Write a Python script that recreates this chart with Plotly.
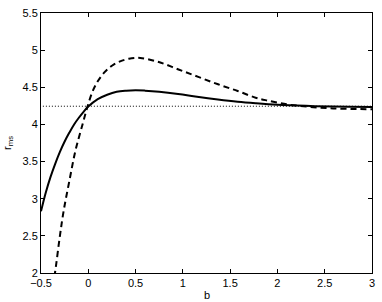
import plotly.graph_objects as go

# Solid curve
b_solid = [-0.5, -0.45, -0.4, -0.35, -0.3, -0.25, -0.2, -0.15, -0.1, -0.05, 0.0, 0.1, 0.2, 0.3, 0.4,
           0.5, 0.6, 0.75, 0.95, 1.15, 1.37, 1.58, 1.77, 2.0, 2.3, 2.6, 3.0]
r_solid = [2.83, 3.08, 3.29, 3.47, 3.63, 3.77, 3.89, 4.0, 4.09, 4.17, 4.24, 4.34, 4.40, 4.44, 4.455,
           4.46, 4.455, 4.44, 4.41, 4.372, 4.335, 4.305, 4.285, 4.265, 4.25, 4.24, 4.235]

# Dashed curve
b_dash = [-0.36, -0.35, -0.30, -0.26, -0.20, -0.137, -0.061, -0.008, 0.044, 0.10, 0.17, 0.25, 0.33,
          0.43, 0.55, 0.745, 0.954, 1.163, 1.372, 1.58, 1.77, 1.9, 2.1, 2.31, 2.52, 2.73, 3.0]
r_dash = [1.95, 2.02, 2.5, 2.84, 3.24, 3.64, 4.0, 4.24, 4.44, 4.58, 4.70, 4.79, 4.845,
          4.885, 4.895, 4.84, 4.74, 4.64, 4.54, 4.45, 4.36, 4.32, 4.27, 4.24, 4.22, 4.21, 4.205]

# Horizontal reference line
b_ref = [-0.48, 3.0]
r_ref = [4.245, 4.245]

x_ticks = [-0.5, 0, 0.5, 1, 1.5, 2, 2.5, 3]
x_ticklabels = ["\u22120.5", "0", "0.5", "1", "1.5", "2", "2.5", "3"]
y_ticks = [2, 2.5, 3, 3.5, 4, 4.5, 5, 5.5]
y_ticklabels = ["2", "2.5", "3", "3.5", "4", "4.5", "5", "5.5"]

fig = go.Figure()
fig.add_trace(go.Scatter(x=b_ref, y=r_ref, mode="lines",
                         line=dict(color="black", width=1, dash="1px,2px")))
fig.add_trace(go.Scatter(x=b_solid, y=r_solid, mode="lines", line_shape="spline",
                         line=dict(color="black", width=2)))
fig.add_trace(go.Scatter(x=b_dash, y=r_dash, mode="lines", line_shape="spline",
                         line=dict(color="black", width=2, dash="6px,4px")))

font = dict(family="Liberation Sans, Arial, sans-serif", size=11, color="black")

fig.update_layout(
    width=382, height=302,
    margin=dict(l=41, r=7, t=11, b=29),
    paper_bgcolor="white", plot_bgcolor="white",
    showlegend=False,
    font=font,
    xaxis=dict(range=[-0.5, 3], tickvals=x_ticks, ticktext=x_ticklabels,
               ticks="inside", ticklen=4, tickcolor="black", showgrid=False, zeroline=False,
               showline=True, linecolor="black", linewidth=1, mirror="ticks",
               tickfont=font),
    yaxis=dict(range=[2, 5.5], tickvals=y_ticks, ticktext=y_ticklabels,
               ticks="inside", ticklen=4, tickcolor="black", showgrid=False, zeroline=False,
               showline=True, linecolor="black", linewidth=1, mirror="ticks",
               tickfont=font),
    annotations=[
        dict(text="b", xref="paper", yref="paper", x=0.5, y=-0.085, yanchor="middle",
             xanchor="center", showarrow=False, font=font),
        dict(text="r<sub>ms</sub>", xref="paper", yref="paper", x=-0.1, y=0.5,
             xanchor="center", yanchor="middle", textangle=-90, showarrow=False, font=font),
    ],
)

fig.write_html("out.html", config={"displayModeBar": False},
               post_script="document.body.style.margin='0';")
